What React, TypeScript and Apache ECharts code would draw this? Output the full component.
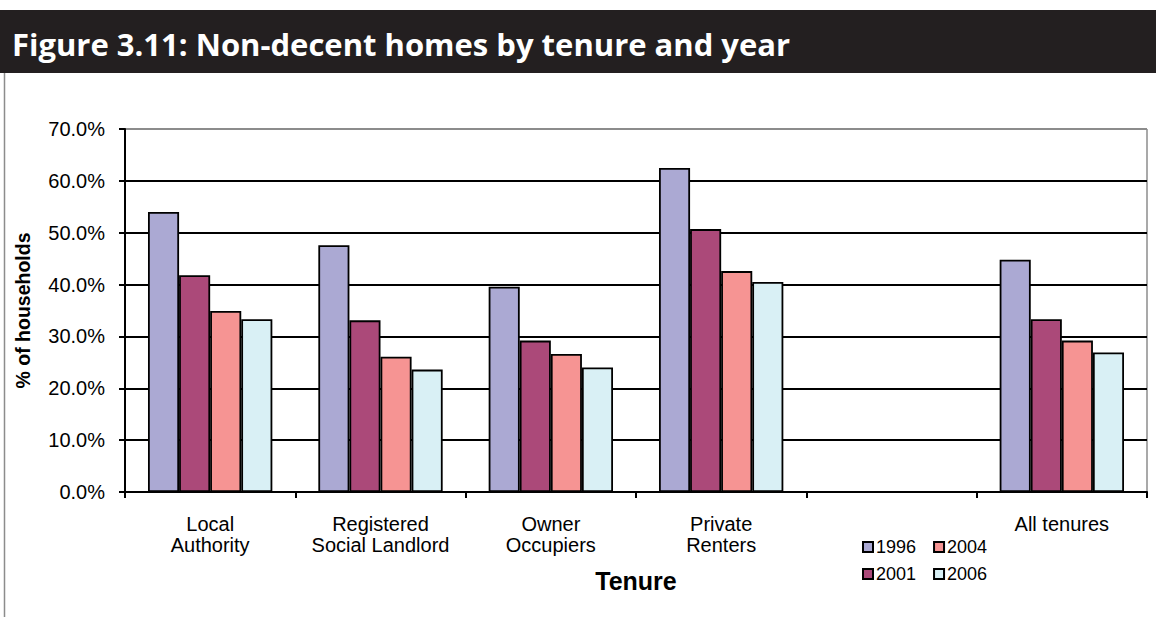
import React, { useEffect, useRef } from "react";
import * as echarts from "echarts";

const categories = [
  "Local\nAuthority",
  "Registered\nSocial Landlord",
  "Owner\nOccupiers",
  "Private\nRenters",
  "",
  "All tenures",
];
const years = ["1996", "2001", "2004", "2006"];
const values1996 = [54.0, 47.6, 39.6, 62.5, null, 44.8];
const values2001 = [41.8, 33.1, 29.2, 50.7, null, 33.3];
const values2004 = [34.9, 26.1, 26.6, 42.6, null, 29.2];
const values2006 = [33.3, 23.6, 24.0, 40.5, null, 26.9];
const yTicks = [0, 10, 20, 30, 40, 50, 60, 70];
const colors = ["#aba9d3", "#ab4979", "#f69493", "#d9f0f5"];

const seriesData = [values1996, values2001, values2004, values2006];

export default function App() {
  const ref = useRef<HTMLDivElement>(null);
  useEffect(() => {
    if (!ref.current) return;
    const chart = echarts.init(ref.current, undefined, { renderer: "svg" });
    const font = "'Liberation Sans', Arial, sans-serif";
    const gridTop = 129;
    const gridBottom = 617 - 492;
    const gridLeft = 125;
    const gridRight = 1156 - 1147;
    const splitColors = yTicks.map((_, i) => (i === yTicks.length - 1 ? "#8c8c8c" : "#000"));
    const legendText = { fontSize: 18, color: "#000", fontFamily: font, padding: [0, 0, 0, -2] };
    chart.setOption({
      animation: false,
      backgroundColor: "#fff",
      textStyle: { fontFamily: font },
      graphic: [
        {
          type: "rect",
          shape: { x: 0, y: 10, width: 1156, height: 63 },
          style: { fill: "#231f20" },
          silent: true,
        },
        {
          type: "text",
          x: 12,
          y: 44,
          style: {
            text: "Figure 3.11: Non-decent homes by tenure and year",
            fill: "#fff",
            font: "bold 31px 'Open Sans', sans-serif",
            verticalAlign: "middle",
          },
        },
        {
          type: "line",
          shape: { x1: 4.5, y1: 73, x2: 4.5, y2: 617 },
          style: { stroke: "#8c8c8c", lineWidth: 1.5 },
          silent: true,
        },
        {
          type: "line",
          shape: { x1: 1147, y1: gridTop, x2: 1147, y2: 492 },
          style: { stroke: "#8c8c8c", lineWidth: 1.5 },
          silent: true,
        },
      ],
      grid: { left: gridLeft, right: gridRight, top: gridTop, bottom: gridBottom, containLabel: false },
      legend: [
        {
          data: ["1996", "2004"],
          left: 862,
          top: 538,
          padding: 0,
          itemWidth: 10,
          itemHeight: 10,
          itemGap: 17,
          icon: "rect",
          textStyle: legendText,
        },
        {
          data: ["2001", "2006"],
          left: 862,
          top: 565,
          padding: 0,
          itemWidth: 10,
          itemHeight: 10,
          itemGap: 17,
          icon: "rect",
          textStyle: legendText,
        },
      ],
      xAxis: {
        type: "category",
        data: categories,
        name: "Tenure",
        nameLocation: "middle",
        nameGap: 76,
        nameTextStyle: { fontSize: 25, fontWeight: "bold", color: "#000", fontFamily: font },
        axisLine: { lineStyle: { color: "#000", width: 2 } },
        axisTick: { show: true, length: 6, alignWithLabel: false, interval: 0, lineStyle: { color: "#000", width: 2 } },
        axisLabel: { interval: 0, fontSize: 20, color: "#000", margin: 21, lineHeight: 21, fontFamily: font },
      },
      yAxis: {
        type: "value",
        min: 0,
        max: 70,
        interval: 10,
        name: "% of households",
        nameLocation: "middle",
        nameGap: 92,
        nameRotate: 90,
        nameTextStyle: { fontSize: 19.5, fontWeight: "bold", color: "#000", fontFamily: font },
        axisLine: { show: true, lineStyle: { color: "#000", width: 2 } },
        axisTick: { show: true, length: 6, lineStyle: { color: "#000", width: 2 } },
        axisLabel: {
          fontSize: 20,
          color: "#000",
          margin: 20,
          fontFamily: font,
          formatter: (v: number) => v.toFixed(1) + "%",
        },
        splitLine: { show: true, lineStyle: { color: splitColors, width: 2 } },
      },
      series: years.map((y, i) => ({
        name: y,
        type: "bar",
        data: seriesData[i],
        barGap: "0%",
        barCategoryGap: "27%",
        itemStyle: { color: colors[i], borderColor: "#000", borderWidth: 1.8 },
        emphasis: { disabled: true },
      })),
    });
    return () => chart.dispose();
  }, []);
  return (
    <div
      ref={ref}
      style={{ position: "fixed", left: 0, top: 0, width: 1156, height: 617 }}
    />
  );
}
